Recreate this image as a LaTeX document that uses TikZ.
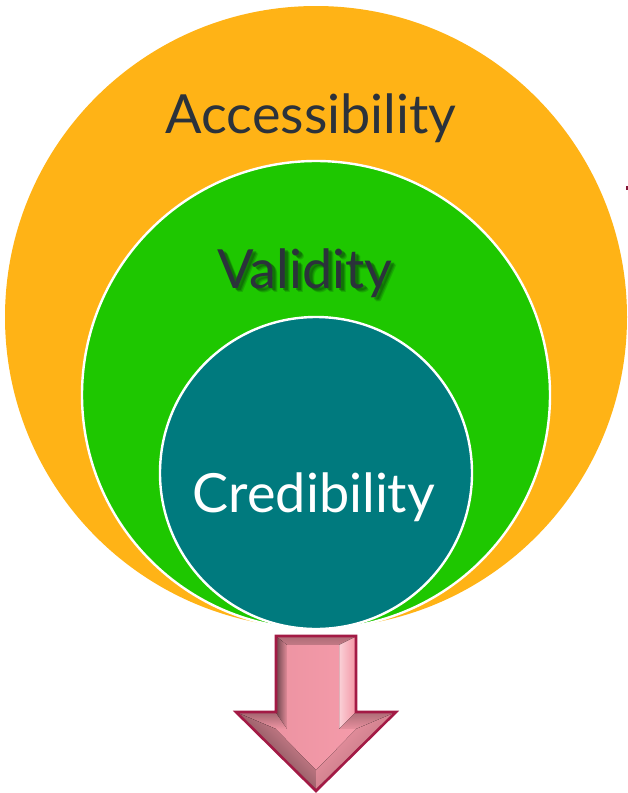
\documentclass[tikz,border=0pt]{standalone}
\usepackage{fontspec}
\setmainfont{Lato}
\definecolor{outerfill}{HTML}{FFB316}
\definecolor{midfill}{HTML}{1EC700}
\definecolor{innerfill}{HTML}{007A7E}
\definecolor{inktext}{HTML}{2B323B}
\definecolor{shadowink}{HTML}{0B4A0B}
\definecolor{arrowface}{HTML}{F498A7}
\definecolor{arrowline}{HTML}{A31A45}
\tikzset{
  ring/.style={circle,inner sep=0pt,minimum size=#1,draw=white,line width=2.4pt},
  textlabel/.style={inner sep=0pt,anchor=base,font=\fontsize{54}{60}\selectfont},
  softshadow/.style={textlabel,text=shadowink,text opacity=#1},
  bevel/.style={draw=none}
}
\begin{document}
\begin{tikzpicture}[x=1pt,y=-1pt]
\useasboundingbox (0,0) rectangle (628,793);
\fill[white] (0,0) rectangle (628,793);
% outer, middle, inner circles
\node[circle,inner sep=0pt,minimum size=622pt,fill=outerfill] (outer) at (316,317) {};
\node[ring=468pt,fill=midfill] (middle) at (316,395) {};
\node[ring=312pt,fill=innerfill] (inner) at (316,473) {};
% labels
\node[textlabel,text=inktext] (access) at (311,133) {Accessibility};
\node[softshadow=0.22] (shadowa) at (310,292) {Validity};
\node[softshadow=0.3] (shadowb) at (309,291) {Validity};
\node[softshadow=0.4] (shadowc) at (308,290) {Validity};
\node[textlabel,text=inktext] (valid) at (305,288) {Validity};
\node[textlabel,text=white] (cred) at (314,512) {Credibility};
% arrow
\fill[arrowface] (276,636) -- (356,636) -- (356,712) -- (396,712) -- (316,791) -- (236,712) -- (276,712) -- cycle;
\fill[bevel,top color=arrowface!72!black,bottom color=arrowface!80!black] (277,637) -- (355,637) -- (339,645) -- (287,645) -- cycle;
\fill[bevel,left color=arrowface!45!black,right color=arrowface!92!black] (277,637) -- (287,645) -- (287,729) -- (276,716) -- cycle;
\fill[bevel,left color=white!55!arrowface,right color=arrowface] (339,645) -- (355,637) -- (355,716) -- (339,729) -- cycle;
\fill[bevel,top color=arrowface!68!black,bottom color=arrowface!98!black] (238,713) -- (276,713) -- (287,729) -- (276,729) -- cycle;
\fill[bevel,top color=arrowface!72!black,bottom color=arrowface!95!black] (394,713) -- (355,713) -- (339,729) -- (356,729) -- cycle;
\fill[bevel,top color=arrowface!95!black,bottom color=arrowface!35!black,shading angle=-45] (238,713) -- (276,729) -- (316,770) -- (316,789) -- cycle;
\fill[bevel,top color=arrowface,bottom color=arrowface!72!black,shading angle=45] (394,713) -- (356,729) -- (316,770) -- (316,789) -- cycle;
\fill[left color=arrowface!97!black,right color=arrowface!97!white] (287,645) -- (339,645) -- (339,729) -- (356,729) -- (316,770) -- (276,729) -- (287,729) -- cycle;
\draw[arrowline,line width=2.6pt,line join=miter] (276,636) -- (356,636) -- (356,712) -- (396,712) -- (316,791) -- (236,712) -- (276,712) -- cycle;
% stray mark at right edge
\fill[arrowline!80!black] (626,186) rectangle (628,190);
\end{tikzpicture}
\end{document}
